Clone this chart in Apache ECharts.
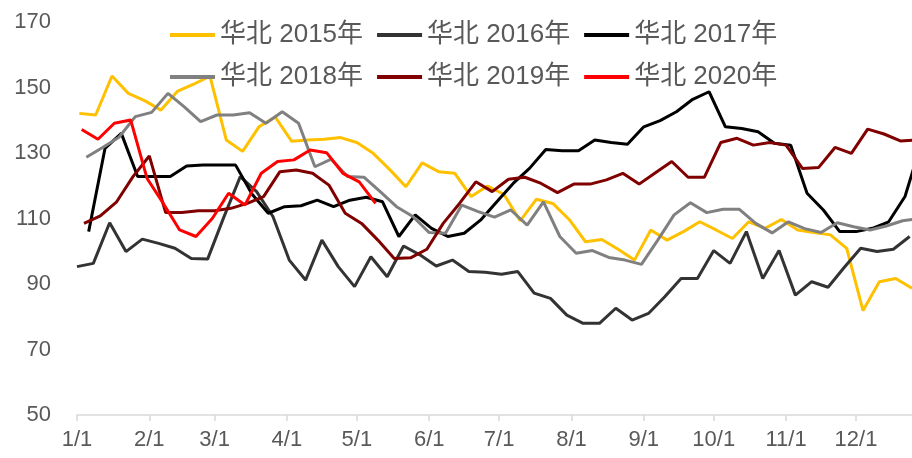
<!DOCTYPE html>
<html><head><meta charset="utf-8">
<script src="https://cdn.jsdelivr.net/npm/echarts@6/dist/echarts.min.js"></script>
<style>html,body{margin:0;padding:0;background:#fff}#c{width:912px;height:458px}</style>
</head><body><div id="c"></div>
<script>
const monthLabels = ['1/1','2/1','3/1','4/1','5/1','6/1','7/1','8/1','9/1','10/1','11/1','12/1'];
const monthStartDays = [0,31,59,90,120,151,181,212,243,273,304,334];
const yTicks = [50,70,90,110,130,150,170];
const seriesNames = ['华北 2015年','华北 2016年','华北 2017年','华北 2018年','华北 2019年','华北 2020年'];
// day of year (0 = Jan 1) of each year's first weekly (Friday) observation
const firstObsDay = [1,0,5,4,3,2];
const v2015 = [142.1,141.6,153.5,148.2,146.0,143.1,148.8,151.0,153.5,134.0,130.5,138.0,141.0,133.6,134.0,134.2,134.7,133.2,129.9,125.0,119.7,127.0,124.3,123.8,116.7,119.9,117.4,109.3,115.9,114.6,109.7,102.9,103.6,100.6,97.3,106.5,103.4,106.0,109.0,106.5,103.9,109.0,107.0,109.7,106.5,105.7,105.0,100.9,81.9,90.7,91.7,88.7];
const v2016 = [95.3,96.3,108.7,99.9,103.7,102.4,100.9,97.8,97.6,110.5,122.8,118.2,110.6,97.3,91.2,103.4,95.3,89.2,98.3,92.2,101.6,98.9,95.5,97.3,93.8,93.6,93.0,93.8,87.2,85.6,80.5,78.0,78.0,82.6,79.0,81.0,86.1,91.7,91.7,100.2,96.3,106.0,91.7,100.2,86.6,90.7,89.0,95.1,100.9,99.9,100.6,104.5];
const v2017 = [106.0,131.4,136.0,122.8,122.8,122.8,126.0,126.3,126.3,126.3,117.5,111.6,113.6,113.9,115.6,113.6,115.6,116.5,115.1,104.5,111.1,107.0,104.5,105.5,109.5,115.1,120.7,125.3,131.1,130.7,130.7,134.0,133.2,132.7,138.0,139.9,142.6,146.4,148.7,138.0,137.5,136.5,133.0,132.4,117.7,112.6,106.0,106.0,107.0,109.0,116.7,133.0];
const v2018 = [128.7,131.7,134.8,141.1,142.4,148.2,144.1,139.6,141.6,141.6,142.3,139.1,142.6,139.1,125.8,128.1,122.8,122.6,118.2,113.6,110.6,105.7,105.5,114.1,112.1,110.4,112.6,108.0,115.1,104.5,99.4,100.2,98.1,97.3,96.0,103.4,111.1,114.8,111.8,112.8,112.8,108.5,105.6,109.0,106.9,105.7,108.7,107.5,106.5,107.7,109.3,110.0];
const v2019 = [108.5,110.8,115.1,122.8,129.1,111.8,111.8,112.4,112.4,113.1,114.6,116.7,124.3,124.8,123.8,120.2,111.6,108.5,103.4,97.8,98.0,100.6,108.5,114.6,121.2,118.2,122.0,122.6,120.7,117.9,120.5,120.5,121.8,123.8,120.5,124.0,127.4,122.6,122.6,133.2,134.5,132.4,133.2,132.4,125.3,125.6,131.7,129.9,137.3,135.8,133.7,134.0];
const v2020 = [137.2,134.2,139.1,140.1,122.3,114.6,106.5,104.5,110.0,117.7,114.1,123.8,127.4,127.9,130.9,130.1,123.8,121.2,114.6];
const allValues = [v2015,v2016,v2017,v2018,v2019,v2020];
const colors = ['#FFC000','#333333','#000000','#808080','#800000','#FF0000'];

const FONT = "'Liberation Sans','Noto Sans CJK SC',sans-serif";
const chart = echarts.init(document.getElementById('c'), null, {renderer:'canvas'});
const series = allValues.map((vals, k) => ({
  name: seriesNames[k],
  type: 'line',
  symbol: 'none',
  smooth: false,
  data: vals.map((v, i) => [firstObsDay[k] + 7 * i, v]),
  lineStyle: {color: colors[k], width: 3},
  itemStyle: {color: colors[k]},
  z: 2 + k
}));
const legendCommon = {
  left: 165, itemWidth: 45, itemHeight: 4, itemGap: 14, icon: 'rect',
  textStyle: {fontSize: 26, color: '#595959', fontFamily: FONT}
};
chart.setOption({
  animation: false,
  backgroundColor: '#fff',
  grid: {left: 77, right: 0, top: 22, bottom: 43, containLabel: false},
  legend: [
    Object.assign({top: 17, data: seriesNames.slice(0,3)}, legendCommon),
    Object.assign({top: 59, data: seriesNames.slice(3,6)}, legendCommon)
  ],
  xAxis: {
    type: 'value', min: 0, max: 358,
    axisLine: {lineStyle: {color: '#D9D9D9', width: 1.5}},
    axisTick: {show: true, customValues: monthStartDays, length: 6, lineStyle: {color: '#D9D9D9', width: 1.5}},
    axisLabel: {customValues: monthStartDays, formatter: v => monthLabels[monthStartDays.indexOf(v)] || '',
      fontSize: 22, color: '#595959', fontFamily: FONT, margin: 14},
    splitLine: {show: false}
  },
  yAxis: {
    type: 'value', min: yTicks[0], max: yTicks[yTicks.length-1], interval: 20,
    axisLine: {show: false}, axisTick: {show: false},
    axisLabel: {fontSize: 22, color: '#595959', fontFamily: FONT, margin: 26},
    splitLine: {show: false}
  },
  series: series
});
</script></body></html>
